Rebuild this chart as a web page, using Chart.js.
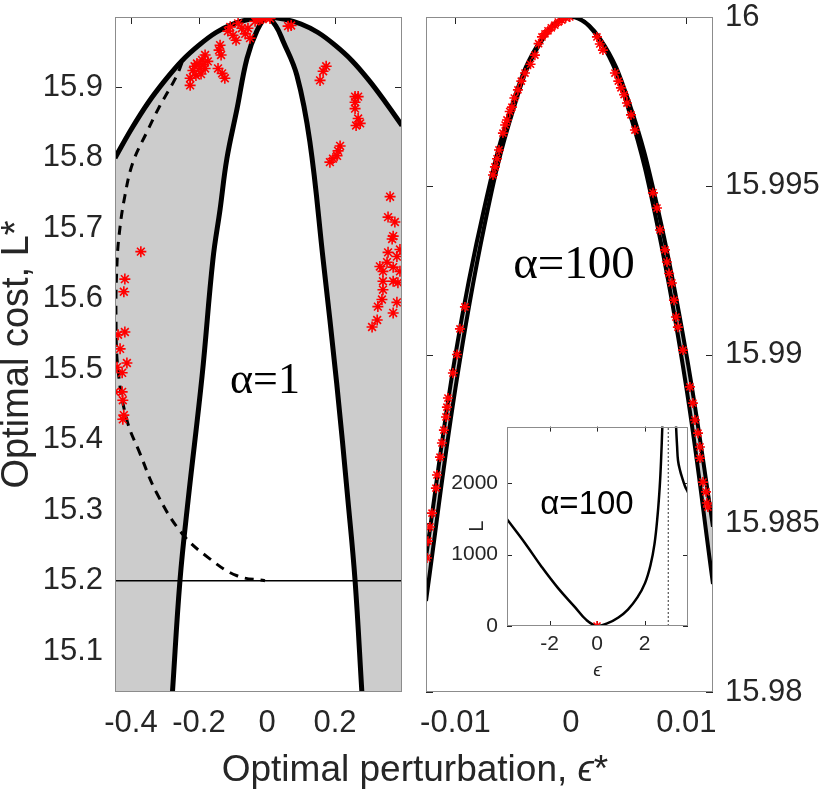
<!DOCTYPE html>
<html>
<head>
<meta charset="utf-8">
<script src="https://cdn.jsdelivr.net/npm/chart.js@4.4.1/dist/chart.umd.min.js"></script>
<style>
html, body { margin: 0; padding: 0; background: #fff; }
#wrap { position: relative; width: 830px; height: 791px; overflow: hidden; }
.cv { position: absolute; }
.txt { position: absolute; white-space: nowrap; transform: translate(-50%, -50%); }
</style>
</head>
<body>
<div id="wrap">
  <div class="cv" style="left:0;top:0"><canvas id="left" width="415" height="791"></canvas></div>
  <div class="cv" style="left:415px;top:0"><canvas id="right" width="415" height="791"></canvas></div>
  <div class="cv" style="left:447px;top:420px"><canvas id="inset" width="253" height="262"></canvas></div>
  <div class="txt" style="left:415px;top:769px;font:37px 'Liberation Sans',Arial,sans-serif;color:#262626">Optimal perturbation, <i>ϵ</i>*</div>
  <div class="txt" style="left:265px;top:378px;font:44px 'Liberation Serif',serif;color:#000">α=1</div>
  <div class="txt" style="left:574px;top:262px;font:47px 'Liberation Serif',serif;color:#000">α=100</div>
  <div class="txt" style="left:587px;top:503px;font:33px 'Liberation Sans',Arial,sans-serif;color:#000">α=100</div>
</div>
<script>
// ---- left panel, alpha = 1 ----
const leftXRange = [-0.447, 0.397];
const leftYRange = [15.042, 16.0];
const leftXTicks = [-0.4, -0.2, 0, 0.2];
const leftYTicks = [15.1, 15.2, 15.3, 15.4, 15.5, 15.6, 15.7, 15.8, 15.9];

// outer envelope
const upperEps = [-0.447, -0.4, -0.35, -0.3, -0.25, -0.2, -0.15, -0.1, -0.05, 0, 0.05, 0.1, 0.15, 0.2, 0.25, 0.3, 0.35, 0.397];
const upperL = [15.800, 15.840, 15.878, 15.910, 15.938, 15.960, 15.978, 15.990, 15.997, 16.0, 15.997, 15.990, 15.978, 15.960, 15.938, 15.910, 15.878, 15.846];

// inner boundary
const innerEps = [-0.278, -0.256, -0.232, -0.191, -0.159, -0.138, -0.118, -0.088, -0.059, -0.03, 0, 0.025, 0.047, 0.088, 0.126, 0.165, 0.205, 0.238, 0.259, 0.279];
const innerL = [15.042, 15.2, 15.314, 15.49, 15.656, 15.727, 15.799, 15.87, 15.941, 15.98, 16.0, 15.988, 15.966, 15.917, 15.823, 15.656, 15.48, 15.314, 15.2, 15.042];

// dashed branch
const dashEps = [-0.25, -0.265, -0.29, -0.315, -0.353, -0.394, -0.418, -0.435, -0.442, -0.444, -0.438, -0.412, -0.374, -0.324, -0.25, -0.168, -0.088, -0.006];
const dashL = [15.935, 15.917, 15.895, 15.874, 15.837, 15.794, 15.746, 15.69, 15.64, 15.57, 15.499, 15.428, 15.381, 15.324, 15.267, 15.231, 15.207, 15.2];

const hlineL = 15.2;

// optimisation results (red stars)
const starEpsA = [-0.029, -0.015, -0.003, 0.009, -0.021, -0.035, 0.062, 0.071,
  -0.085, -0.074, -0.056, -0.1, -0.115, -0.091, -0.05, -0.108, -0.064, -0.138, -0.141, -0.135,
  -0.182, -0.191, -0.206, -0.174, -0.197, -0.218, -0.182, -0.209, -0.226, -0.194, -0.213, -0.188, -0.226, -0.132, -0.144, -0.124,
  0.165, 0.174, 0.156, 0.259, 0.268, 0.259, 0.259, 0.268, 0.274, 0.262, 0.215, 0.209, 0.206, 0.194, 0.185,
  0.362, 0.356, 0.376, 0.371, 0.368, 0.391, 0.356, 0.382, 0.332, 0.353, 0.371, 0.391, 0.341, 0.341, 0.371, 0.385, 0.341, 0.338, 0.382, 0.326, 0.371, 0.324, 0.309,
  -0.371, -0.418, -0.421, -0.418, -0.438, -0.432, -0.441, -0.412, -0.426, -0.447, -0.426, -0.424, -0.421, -0.424];
const starLA = [15.998, 15.998, 15.999, 15.998, 15.996, 15.994, 15.987, 15.988,
  15.991, 15.984, 15.984, 15.974, 15.98, 15.967, 15.97, 15.986, 15.976, 15.96, 15.953, 15.946,
  15.946, 15.939, 15.934, 15.937, 15.927, 15.924, 15.927, 15.917, 15.913, 15.919, 15.93, 15.932, 15.903, 15.92, 15.927, 15.913,
  15.923, 15.93, 15.91, 15.887, 15.887, 15.879, 15.87, 15.856, 15.849, 15.846, 15.817, 15.81, 15.803, 15.799, 15.794,
  15.745, 15.716, 15.709, 15.689, 15.685, 15.67, 15.666, 15.66, 15.646, 15.652, 15.645, 15.639, 15.639, 15.625, 15.625, 15.623, 15.613, 15.599, 15.595, 15.589, 15.58, 15.57, 15.56,
  15.667, 15.628, 15.61, 15.553, 15.549, 15.529, 15.503, 15.509, 15.495, 15.468, 15.468, 15.456, 15.435, 15.429];

// ---- right panel, alpha = 100 ----
const rightXRange = [-0.01255, 0.0123];
const rightYRange = [15.98, 16.0];
const rightXTicks = [-0.01, 0, 0.01];
const rightYTicks = [15.98, 15.985, 15.99, 15.995, 16];

const outerEps = [-0.01255, -0.01, -0.0075, -0.005, -0.0025, 0, 0.0025, 0.005, 0.0075, 0.01, 0.0123];
const outerL = [15.9840, 15.9900, 15.99435, 15.9975, 15.99937, 16.0, 15.99937, 15.9975, 15.99435, 15.9900, 15.9849];
const innerEpsB = [-0.01255, -0.01, -0.0075, -0.005, -0.0025, 0, 0.0025, 0.005, 0.0075, 0.01, 0.0123];
const innerLB = [15.9827, 15.9890, 15.9938, 15.99725, 15.99931, 16.0, 15.99931, 15.99725, 15.9938, 15.9890, 15.9832];

const starEpsB = [-0.0001, -0.00045, -0.00078, -0.0011, -0.00139, -0.0017, -0.00199, -0.00225, -0.00251, -0.0028, -0.00312, -0.0035, -0.00398, -0.0043, -0.00459, -0.0049, -0.00511, -0.0053, -0.00554, -0.0057, -0.00589, -0.00623, -0.0064, -0.00658, -0.00675,
  -0.00918, -0.00961, -0.00987, -0.01022, -0.01065, -0.01074, -0.01082, -0.011, -0.01117, -0.01134, -0.0116, -0.01169, -0.01203, -0.01221, -0.01238, -0.01247,
  0.00225, 0.0025, 0.00277, 0.00381, 0.0041, 0.00433, 0.0046, 0.00485, 0.0052, 0.00554, 0.0071, 0.00745, 0.00771, 0.00814, 0.00831, 0.0085, 0.00874, 0.00892, 0.00909, 0.00926, 0.0097,
  0.0103, 0.01056, 0.01074, 0.011, 0.01117, 0.01117, 0.01143, 0.01169, 0.01177, 0.01186];
const starLB = [16.0, 15.99998, 15.99991, 15.99985, 15.99976, 15.99968, 15.99959, 15.9995, 15.99941, 15.99921, 15.99887, 15.9986, 15.99834, 15.9981, 15.99784, 15.9976, 15.99733, 15.9972, 15.99695, 15.9968, 15.99656, 15.99606, 15.9958, 15.99556, 15.99532,
  15.99141, 15.99076, 15.99, 15.98945, 15.98871, 15.98844, 15.98815, 15.98776, 15.98738, 15.98696, 15.98643, 15.98604, 15.9853, 15.98489, 15.98447, 15.98397,
  15.99941, 15.9992, 15.99902, 15.99834, 15.9981, 15.9979, 15.9977, 15.99745, 15.9971, 15.99665, 15.99479, 15.99434, 15.99369, 15.9931, 15.99274, 15.9924, 15.99212, 15.99161, 15.99111, 15.99081, 15.99013,
  15.98904, 15.98856, 15.98806, 15.98767, 15.98726, 15.98693, 15.98622, 15.98593, 15.9856, 15.98548];

// ---- inset, alpha = 100 ----
const insetXRange = [-3.79, 3.83];
const insetYRange = [0, 2790];
const insetXTicks = [-2, 0, 2];
const insetYTicks = [0, 1000, 2000];
const branch1Eps = [-3.79, -3.03, -2.32, -1.64, -0.93, -0.45, 0, 0.45, 0.9, 1.3, 1.7, 2.02, 2.25, 2.42, 2.55, 2.64, 2.7, 2.75, 2.78];
const branch1L = [1493, 1158, 823, 530, 265, 85, 0, 40, 120, 230, 400, 600, 850, 1150, 1550, 1950, 2350, 2800, 3100];
const branch2Eps = [3.30, 3.33, 3.37, 3.41, 3.5, 3.58, 3.7, 3.83];
const branch2L = [3100, 2777, 2520, 2316, 2170, 2079, 1960, 1870];
const poleEps = 3.0;
const minEps = [0];
const minL = [0];

const fmt = v => String(Number(v.toFixed(4)));
const pts = (xs, ys) => xs.map((x, i) => ({ x: x, y: ys[i] }));
const flat = (xs, y) => xs.map(x => ({ x: x, y: y }));
const SANS = "'Liberation Sans', Arial, sans-serif";

function axis(range, ticks, fontSize, fitSize, pad, extra) {
    return Object.assign({
        type: 'linear',
        min: range[0],
        max: range[1],
        afterBuildTicks: function (s) { s.ticks = ticks.map(v => ({ value: v })); },
        afterFit: function (s) {
            if (s.isHorizontal()) s.height = fitSize; else s.width = fitSize;
            s.paddingLeft = s.paddingRight = s.paddingTop = s.paddingBottom = 0;
        },
        grid: { display: false, drawTicks: false },
        border: { display: false },
        ticks: { font: { family: SANS, size: fontSize, lineHeight: 1 }, color: '#262626', padding: pad, callback: fmt, maxRotation: 0, autoSkip: false }
    }, extra || {});
}

// box and inward tick marks like matlab axes
const frame = {
    id: 'frame',
    beforeDraw: function (chart, args, opts) {
        if (!opts.white) return;
        const a = chart.chartArea, ctx = chart.ctx;
        ctx.save();
        ctx.fillStyle = '#fff';
        ctx.fillRect(a.left, a.top, a.width, a.height);
        ctx.restore();
    },
    beforeDatasetsDraw: function (chart, args, opts) {
        const a = chart.chartArea, ctx = chart.ctx, x = chart.scales.x, y = chart.scales.y;
        const len = opts.len || 7;
        ctx.save();
        ctx.strokeStyle = '#262626';
        ctx.lineWidth = 1;
        ctx.beginPath();
        x.ticks.forEach(function (t) {
            const p = Math.round(x.getPixelForValue(t.value)) + 0.5;
            ctx.moveTo(p, a.bottom); ctx.lineTo(p, a.bottom - len);
            ctx.moveTo(p, a.top); ctx.lineTo(p, a.top + len);
        });
        y.ticks.forEach(function (t) {
            const p = Math.round(y.getPixelForValue(t.value)) + 0.5;
            ctx.moveTo(a.left, p); ctx.lineTo(a.left + len, p);
            ctx.moveTo(a.right, p); ctx.lineTo(a.right - len, p);
        });
        ctx.stroke();
        ctx.restore();
    },
    afterDatasetsDraw: function (chart) {
        const a = chart.chartArea, ctx = chart.ctx;
        ctx.save();
        ctx.strokeStyle = '#8c8c8c';
        ctx.lineWidth = 1;
        ctx.strokeRect(Math.round(a.left) + 0.5, Math.round(a.top) + 0.5, Math.round(a.width) - 1, Math.round(a.height) - 1);
        ctx.restore();
    }
};

const base = {
    responsive: false,
    animation: false,
    devicePixelRatio: 1,
    events: [],
    plugins: { legend: { display: false }, tooltip: { enabled: false } }
};

function lineSet(data, color, width, order, more) {
    return Object.assign({ data: data, borderColor: color, borderWidth: width, pointRadius: 0, tension: 0.4, fill: false, order: order }, more || {});
}

function starSet(data, r) {
    return { data: data, showLine: false, pointStyle: 'star', pointRadius: r, pointBorderColor: '#ff0000', pointBackgroundColor: '#ff0000', pointBorderWidth: 1.6, order: 0 };
}

new Chart(document.getElementById('left'), {
    type: 'line',
    data: {
        datasets: [
            lineSet(pts(upperEps, upperL), 'rgba(0,0,0,0)', 0, 10, { fill: 'start', backgroundColor: '#cccccc' }),
            lineSet(pts(innerEps, innerL), '#000', 5, 9, { fill: 'start', backgroundColor: '#ffffff' }),
            lineSet(flat(leftXRange, hlineL), '#000', 1.5, 4, { tension: 0 }),
            lineSet(pts(dashEps, dashL), '#000', 3, 3, { borderDash: [9, 7] }),
            lineSet(pts(upperEps, upperL), '#000', 5, 2),
            starSet(pts(starEpsA, starLA), 5.5)
        ]
    },
    options: Object.assign({}, base, {
        layout: { padding: { top: 17, right: 13, left: 0, bottom: 0 } },
        plugins: Object.assign({}, base.plugins, { frame: { len: 7 } }),
        scales: {
            x: axis(leftXRange, leftXTicks, 31, 99, 16),
            y: axis(leftYRange, leftYTicks, 31, 115, 12, {
                title: { display: true, text: 'Optimal cost, L*', font: { family: SANS, size: 38, lineHeight: 1 }, color: '#262626', padding: { top: -1, bottom: 0 } }
            })
        }
    }),
    plugins: [frame]
});

new Chart(document.getElementById('right'), {
    type: 'line',
    data: {
        datasets: [
            lineSet(pts(outerEps, outerL), '#000', 4, 10, { fill: 'start', backgroundColor: '#cccccc' }),
            lineSet(pts(innerEpsB, innerLB), '#000', 4, 9, { fill: 'start', backgroundColor: '#ffffff' }),
            starSet(pts(starEpsB, starLB), 5)
        ]
    },
    options: Object.assign({}, base, {
        layout: { padding: { top: 17, right: 0, left: 11, bottom: 0 } },
        plugins: Object.assign({}, base.plugins, { frame: { len: 7 } }),
        scales: {
            x: axis(rightXRange, rightXTicks, 31, 99, 16),
            y: axis(rightYRange, rightYTicks, 31, 117, 12, { position: 'right' })
        }
    }),
    plugins: [frame]
});

new Chart(document.getElementById('inset'), {
    type: 'line',
    data: {
        datasets: [
            lineSet(pts(branch1Eps, branch1L), '#000', 2.5, 3),
            lineSet(pts(branch2Eps, branch2L), '#000', 2.5, 3),
            lineSet(pts([poleEps, poleEps], insetYRange), '#555', 1.2, 4, { tension: 0, borderDash: [2, 2] }),
            starSet(pts(minEps, minL), 5)
        ]
    },
    options: Object.assign({}, base, {
        layout: { padding: { top: 6, right: 12, left: 0, bottom: 0 } },
        plugins: Object.assign({}, base.plugins, { frame: { len: 5, white: true } }),
        scales: {
            x: axis(insetXRange, insetXTicks, 21, 56, 8, {
                title: { display: true, text: 'ϵ', font: { family: SANS, size: 19, style: 'italic' }, color: '#262626', padding: { top: 0, bottom: 0 } }
            }),
            y: axis(insetYRange, insetYTicks, 21, 60, 9, {
                title: { display: true, text: 'L', font: { family: SANS, size: 20 }, color: '#262626', padding: { top: 18, bottom: 0 } }
            })
        }
    }),
    plugins: [frame]
});
</script>
</body>
</html>
